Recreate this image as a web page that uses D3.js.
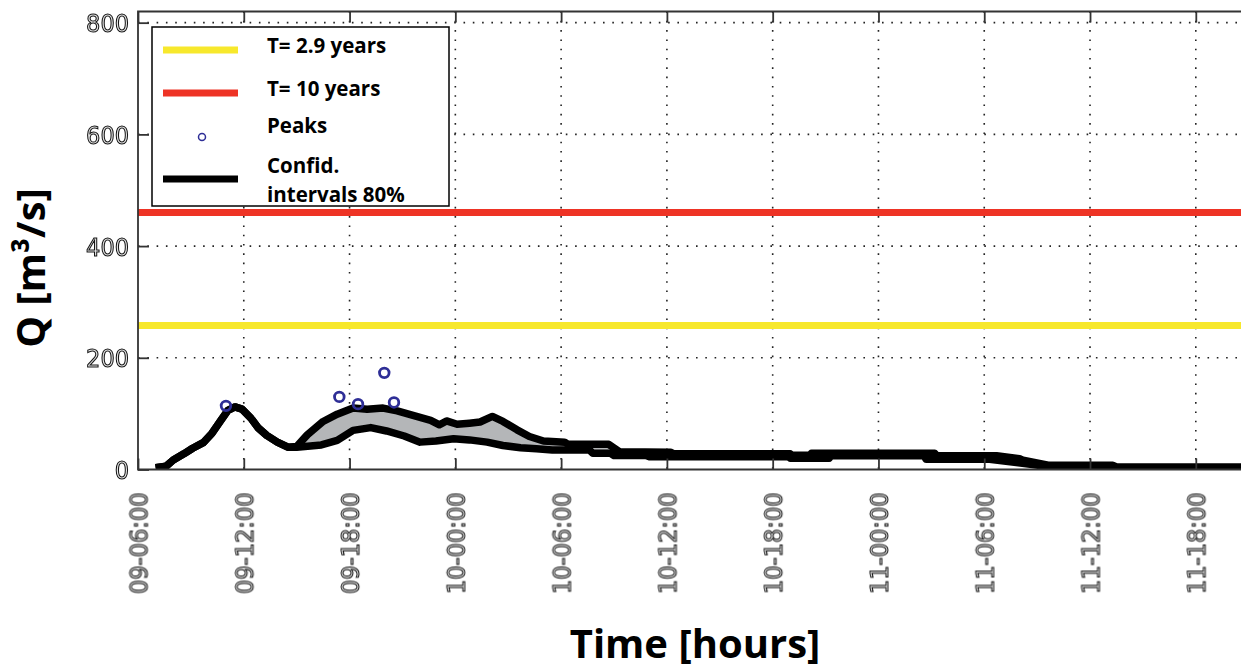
<!DOCTYPE html>
<html>
<head>
<meta charset="utf-8">
<script src="https://cdn.jsdelivr.net/npm/d3@7"></script>
<style>
  body { margin: 0; background: #fff; }
  .tick-label { font-family: "DejaVu Sans Condensed", "DejaVu Sans", sans-serif; font-stretch: condensed; font-size: 25px; fill: #e4e4e4; stroke: #151515; stroke-width: 1.05px; }
  .title { font-family: "Open Sans", sans-serif; font-weight: 700; font-size: 40px; fill: #000; }
  .legend-text { font-family: "Open Sans", sans-serif; font-weight: 700; font-size: 20.5px; fill: #000; }
</style>
</head>
<body>
<svg id="chart" width="1241" height="669"></svg>
<script>
// hours counted from 09-06:00
const upperHours = [1.0, 1.6, 2.0, 2.6, 3.1, 3.7, 4.2, 4.7, 5.1, 5.5, 5.9, 6.4, 6.8, 7.3, 7.9, 8.5, 9.0,
  9.6, 10.5, 11.3, 12.2, 13.0, 13.9, 14.7, 15.6, 16.6, 17.1, 17.5, 18.1, 18.8, 19.4, 20.1, 20.7, 21.5,
  22.2, 23.0, 24.2, 24.4, 26.7, 27.3, 30.2, 30.4, 37.0, 37.1, 38.1, 38.2, 45.2, 45.3, 48.7, 50.0, 50.2,
  51.7, 55.3, 55.5, 63];
const upperQ = [3, 6, 17, 28, 38, 48, 65, 88, 106, 112, 108, 92, 75, 61, 49, 40, 41,
  62, 86, 99, 110, 108, 110, 105, 97, 88, 80, 87, 81, 83, 85, 95, 86, 71,
  59, 51, 49, 45, 45, 32, 31, 28, 28, 25.5, 25.5, 29, 29, 24.5, 24.5, 19.5, 16.5,
  7.5, 7.5, 4.5, 4.5];

const lowerHours = [1.0, 1.6, 2.0, 2.6, 3.1, 3.7, 4.2, 4.7, 5.1, 5.5, 5.9, 6.4, 6.8, 7.3, 7.9, 8.5, 9.0,
  10.4, 11.3, 12.2, 13.2, 14.1, 15.1, 16.0, 16.9, 17.9, 18.8, 19.8, 20.7, 21.7, 22.6, 23.5, 25.6, 25.8,
  26.8, 27.0, 28.8, 29.0, 36.9, 37.0, 39.2, 39.3, 44.6, 44.7, 48.3, 51.7, 55.3, 55.5, 63];
const lowerQ = [3, 6, 17, 28, 38, 48, 65, 88, 106, 112, 108, 92, 75, 61, 49, 40, 40,
  44, 52, 70, 75, 69, 60, 49, 51, 55, 53, 49, 43, 39, 37, 35, 35, 29,
  29, 25, 25, 23, 23, 20, 20, 24.5, 24.5, 18.5, 18.5, 5, 5, 2, 2];

const peakHours = [4.99, 11.42, 12.48, 13.97, 14.52];
const peakQ = [114, 130, 117, 173, 120];

const returnPeriods = ["T= 2.9 years", "T= 10 years"];
const returnQ = [258, 460];
const returnColors = ["#f7e82c", "#ee3325"];

const xTickHours = [0, 6, 12, 18, 24, 30, 36, 42, 48, 54, 60];
const yTicks = [0, 200, 400, 600, 800];
const hoursShown = 63;

const svg = d3.select("#chart");
const t0 = Date.UTC(2000, 0, 9, 6);
const toDate = h => new Date(t0 + h * 3600 * 1000);

const plotLeft = 138, plotTop = 11.5, plotBottom = 469.5;
const plotRight = plotLeft + hoursShown * 17.63;

const x = d3.scaleUtc().domain([toDate(0), toDate(hoursShown)]).range([plotLeft, plotRight]);
const y = d3.scaleLinear().domain([0, 820]).range([plotBottom, plotTop]);

const defs = svg.append("defs");
defs.append("clipPath").attr("id", "plot-clip")
  .append("rect").attr("x", plotLeft).attr("y", plotTop)
  .attr("width", plotRight - plotLeft).attr("height", plotBottom - plotTop);
// grey out the colour fringes of the hollow tick digits
defs.append("filter").attr("id", "grey")
  .append("feColorMatrix").attr("type", "saturate").attr("values", 0);

// dotted grid
const grid = svg.append("g").attr("stroke", "#222").attr("stroke-width", 1.6).attr("stroke-dasharray", "1.6 7.7");
grid.selectAll(".gx").data(xTickHours.slice(1)).enter().append("line")
  .attr("x1", d => x(toDate(d))).attr("x2", d => x(toDate(d)))
  .attr("y1", plotTop).attr("y2", plotBottom);
grid.selectAll(".gy").data(yTicks.slice(1)).enter().append("line")
  .attr("x1", plotLeft).attr("x2", plotRight)
  .attr("y1", d => y(d)).attr("y2", d => y(d));

const plot = svg.append("g").attr("clip-path", "url(#plot-clip)");

// return period thresholds
plot.selectAll(".thr").data(returnQ).enter().append("line")
  .attr("x1", plotLeft).attr("x2", plotRight)
  .attr("y1", d => y(d)).attr("y2", d => y(d))
  .attr("stroke", (d, i) => returnColors[i]).attr("stroke-width", 7);

const upper = upperHours.map((h, i) => ({ date: toDate(h), q: upperQ[i] }));
const lower = lowerHours.map((h, i) => ({ date: toDate(h), q: lowerQ[i] }));

// shaded band: upper path forward, lower path back
const line = d3.line().x(d => x(d.date)).y(d => y(d.q));
const bandPts = upper.concat(lower.slice().reverse());
plot.append("path").datum(bandPts).attr("d", d => line(d) + "Z")
  .attr("fill", "#b4b6b8").attr("stroke", "none");

[upper, lower].forEach(s => {
  plot.append("path").datum(s).attr("d", line)
    .attr("fill", "none").attr("stroke", "#000").attr("stroke-width", 7.5)
    .attr("stroke-linejoin", "round");
});

// peaks
plot.selectAll(".peak").data(peakHours).enter().append("circle")
  .attr("cx", d => x(toDate(d))).attr("cy", (d, i) => y(peakQ[i]))
  .attr("r", 4.8).attr("fill", "none").attr("stroke", "#2e2e96").attr("stroke-width", 2.8);

// axes with inward ticks
const fmt = d3.utcFormat("%d-%H:%M");
const tickDates = xTickHours.map(toDate);

const xAxis = svg.append("g").attr("transform", `translate(0,${plotBottom})`)
  .call(d3.axisBottom(x).tickValues(tickDates).tickSize(-11).tickSizeOuter(0).tickFormat(fmt));
xAxis.selectAll("text").attr("class", "tick-label").attr("filter", "url(#grey)")
  .attr("transform", "rotate(-90)").attr("text-anchor", "end")
  .attr("x", -23).attr("y", 0).attr("dy", "0.36em");

svg.append("g").attr("transform", `translate(0,${plotTop})`)
  .call(d3.axisTop(x).tickValues(tickDates).tickSize(-11).tickSizeOuter(0).tickFormat(""));

const yAxis = svg.append("g").attr("transform", `translate(${plotLeft},0)`)
  .call(d3.axisLeft(y).tickValues(yTicks).tickSize(-11).tickSizeOuter(0).tickPadding(9));
yAxis.selectAll("text").attr("class", "tick-label").attr("filter", "url(#grey)").attr("dy", "0.36em");

svg.selectAll(".domain").remove();
svg.selectAll(".tick line").attr("stroke", "#333").attr("stroke-width", 1.8);

// frame
svg.append("path")
  .attr("d", `M${plotRight},${plotTop}H${plotLeft}V${plotBottom}H${plotRight}`)
  .attr("fill", "none").attr("stroke", "#333").attr("stroke-width", 1.8);

// titles
svg.append("text").attr("class", "title")
  .attr("x", 695).attr("y", 658).attr("text-anchor", "middle")
  .text("Time [hours]");
svg.append("text").attr("class", "title")
  .attr("transform", "translate(45,268) rotate(-90)").attr("text-anchor", "middle")
  .text("Q [m³/s]");

// legend
const legend = svg.append("g");
legend.append("rect").attr("x", 152).attr("y", 27).attr("width", 297).attr("height", 179)
  .attr("fill", "#fff").attr("stroke", "#000").attr("stroke-width", 1.5);

const legendRows = [50, 93, 137, 179];
returnPeriods.forEach((label, i) => {
  legend.append("line").attr("x1", 163).attr("x2", 238)
    .attr("y1", legendRows[i]).attr("y2", legendRows[i])
    .attr("stroke", returnColors[i]).attr("stroke-width", 7);
  legend.append("text").attr("class", "legend-text").attr("x", 267).attr("y", legendRows[i] + 3)
    .text(label);
});
legend.append("circle").attr("cx", 202).attr("cy", legendRows[2]).attr("r", 3.5)
  .attr("fill", "none").attr("stroke", "#2e2e96").attr("stroke-width", 1.5);
legend.append("text").attr("class", "legend-text").attr("x", 267).attr("y", 133).text("Peaks");
legend.append("line").attr("x1", 163).attr("x2", 238)
  .attr("y1", legendRows[3]).attr("y2", legendRows[3])
  .attr("stroke", "#000").attr("stroke-width", 7);
legend.append("text").attr("class", "legend-text").attr("x", 267).attr("y", 173).text("Confid.");
legend.append("text").attr("class", "legend-text").attr("x", 267).attr("y", 202).text("intervals 80%");
</script>
</body>
</html>
